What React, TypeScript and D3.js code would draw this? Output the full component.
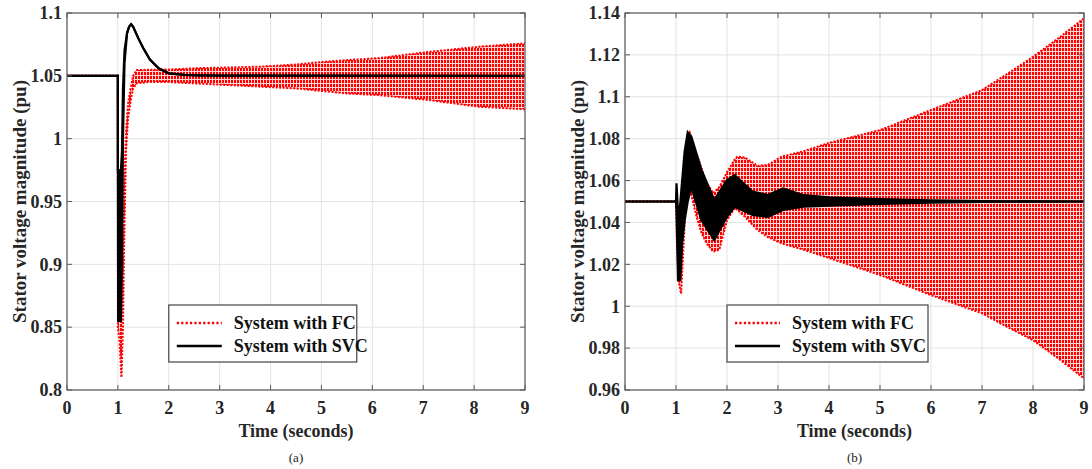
import React from "react";
import * as d3 from "d3";

// ---- Panel (a): envelope of each trace (time in s, voltage in pu) ----
const fcTimeA = [0, 0.999, 1.0, 1.03, 1.07, 1.1, 1.12, 1.16, 1.2, 1.25, 1.3, 1.37, 1.6, 2.0, 2.5, 3.0, 3.8, 4.5, 5.0, 5.5, 6.1, 7.1, 8.1, 9.0];
const fcUpperA = [1.05, 1.05, 0.97, 0.92, 0.86, 0.9, 0.96, 1.005, 1.028, 1.04, 1.05, 1.0546, 1.0548, 1.055, 1.056, 1.0565, 1.0573, 1.059, 1.061, 1.0625, 1.064, 1.069, 1.0732, 1.0759];
const fcLowerA = [1.05, 1.05, 0.85, 0.84, 0.81, 0.85, 0.91, 0.99, 1.016, 1.03, 1.04, 1.044, 1.045, 1.045, 1.044, 1.043, 1.0414, 1.04, 1.038, 1.036, 1.0347, 1.0308, 1.0254, 1.0234];

const svcTimeA = [0, 0.999, 1.0, 1.005, 1.06, 1.08, 1.1, 1.13, 1.18, 1.22, 1.26, 1.3, 1.4, 1.5, 1.63, 1.8, 2.0, 2.3, 2.6, 3.0, 9.0];
const svcUpperA = [1.05, 1.05, 0.975, 0.975, 0.975, 0.99, 1.04, 1.07, 1.084, 1.089, 1.091, 1.089, 1.08, 1.072, 1.063, 1.056, 1.052, 1.0507, 1.0503, 1.0501, 1.05];
const svcLowerA = [1.05, 1.05, 0.975, 0.855, 0.855, 0.9, 1.0, 1.06, 1.084, 1.089, 1.091, 1.089, 1.08, 1.072, 1.063, 1.056, 1.052, 1.0507, 1.0503, 1.0501, 1.05];

// ---- Panel (b) ----
const fcTimeB = [0, 0.999, 1.0, 1.02, 1.05, 1.1, 1.15, 1.2, 1.27, 1.4, 1.5, 1.6, 1.73, 1.85, 2.0, 2.15, 2.2, 2.35, 2.6, 2.8, 3.07, 3.5, 4.0, 5.0, 6.0, 7.0, 7.5, 8.0, 8.5, 9.0];
const fcUpperB = [1.05, 1.05, 1.05, 1.04, 1.03, 1.02, 1.06, 1.078, 1.0828, 1.073, 1.066, 1.059, 1.054, 1.057, 1.064, 1.07, 1.0714, 1.071, 1.067, 1.0675, 1.0714, 1.074, 1.078, 1.0841, 1.0937, 1.1032, 1.111, 1.1191, 1.128, 1.1375];
const fcLowerB = [1.05, 1.05, 1.05, 1.03, 1.012, 1.006, 1.03, 1.055, 1.056, 1.043, 1.035, 1.03, 1.026, 1.027, 1.041, 1.047, 1.046, 1.0427, 1.0364, 1.033, 1.03, 1.027, 1.023, 1.0149, 1.0053, 0.9966, 0.99, 0.9838, 0.975, 0.9655];

const svcTimeB = [0, 0.999, 1.0, 1.01, 1.04, 1.08, 1.12, 1.17, 1.23, 1.3, 1.5, 1.75, 2.0, 2.15, 2.5, 2.8, 3.1, 3.5, 4.0, 5.0, 6.0, 7.0, 9.0];
const svcUpperB = [1.05, 1.05, 1.05, 1.0587, 1.045, 1.048, 1.06, 1.074, 1.083, 1.081, 1.065, 1.0507, 1.0602, 1.0626, 1.0547, 1.0531, 1.0563, 1.053, 1.052, 1.0512, 1.0505, 1.0502, 1.05];
const svcLowerB = [1.05, 1.05, 1.05, 1.045, 1.0125, 1.0125, 1.03, 1.041, 1.05, 1.057, 1.041, 1.0316, 1.0427, 1.0475, 1.0436, 1.0427, 1.046, 1.0475, 1.048, 1.0488, 1.0495, 1.0498, 1.05];

// ---- Axes ----
const xTicks = [0, 1, 2, 3, 4, 5, 6, 7, 8, 9];
const yTicksA = [0.8, 0.85, 0.9, 0.95, 1, 1.05, 1.1];
const yTicksB = [0.96, 0.98, 1, 1.02, 1.04, 1.06, 1.08, 1.1, 1.12, 1.14];
const legendLabels = ["System with FC", "System with SVC"];
const xTitle = "Time (seconds)";
const yTitle = "Stator voltage magnitude (pu)";

const FONT = "'Liberation Serif', 'Times New Roman', serif";
const RED = "#ff0000";

type Pt = { t: number; hi: number; lo: number };
const zip = (t: number[], hi: number[], lo: number[]): Pt[] =>
  t.map((v, i) => ({ t: v, hi: hi[i], lo: lo[i] }));

type PanelProps = {
  id: string;
  left: number;
  right: number;
  top: number;
  bottom: number;
  yDomain: [number, number];
  yTicks: number[];
  fc: Pt[];
  svc: Pt[];
  legendT: number;
  legendW: number;
  caption: string;
};

function Panel(p: PanelProps) {
  const x = d3.scaleLinear().domain([0, 9]).range([p.left, p.right]);
  const y = d3.scaleLinear().domain(p.yDomain).range([p.bottom, p.top]);

  const area = d3
    .area<Pt>()
    .x((d) => x(d.t))
    .y0((d) => y(d.lo))
    .y1((d) => y(d.hi));
  const upper = d3
    .line<Pt>()
    .x((d) => x(d.t))
    .y((d) => y(d.hi));
  const lower = d3
    .line<Pt>()
    .x((d) => x(d.t))
    .y((d) => y(d.lo));

  const clipId = `clip-${p.id}`;
  const patId = `osc-${p.id}`;
  const tickLen = 5;
  const cx = (p.left + p.right) / 2;
  const cy = (p.top + p.bottom) / 2;

  const lx = x(p.legendT);
  const ly = 305;
  const lh = 57;

  return (
    <g>
      <defs>
        <clipPath id={clipId}>
          <rect x={p.left} y={p.top} width={p.right - p.left} height={p.bottom - p.top} />
        </clipPath>
        {/* dense oscillation band: red dotted strokes */}
        <pattern id={patId} patternUnits="userSpaceOnUse" width={3} height={4}>
          <rect x={0} y={0} width={3} height={4} fill="#ffd6d6" />
          <rect x={0} y={0} width={2} height={3} fill={RED} />
        </pattern>
      </defs>

      {/* grid */}
      <g stroke="#e3e3e3" strokeWidth={1}>
        {xTicks.map((t) => (
          <line key={`gx${t}`} x1={x(t)} x2={x(t)} y1={p.top} y2={p.bottom} />
        ))}
        {p.yTicks.map((v) => (
          <line key={`gy${v}`} x1={p.left} x2={p.right} y1={y(v)} y2={y(v)} />
        ))}
      </g>

      <g clipPath={`url(#${clipId})`}>
        {/* FC trace */}
        <path d={area(p.fc) ?? ""} fill={`url(#${patId})`} />
        <path d={upper(p.fc) ?? ""} fill="none" stroke={RED} strokeWidth={2} strokeDasharray="2,1.5" />
        <path d={lower(p.fc) ?? ""} fill="none" stroke={RED} strokeWidth={2} strokeDasharray="2,1.5" />
        {/* SVC trace */}
        <path d={area(p.svc) ?? ""} fill="#000" />
        <path d={upper(p.svc) ?? ""} fill="none" stroke="#000" strokeWidth={2.2} />
        <path d={lower(p.svc) ?? ""} fill="none" stroke="#000" strokeWidth={2.2} />
      </g>

      {/* axes box and ticks */}
      <rect
        x={p.left}
        y={p.top}
        width={p.right - p.left}
        height={p.bottom - p.top}
        fill="none"
        stroke="#5a5a5a"
        strokeWidth={1.2}
      />
      <g stroke="#5a5a5a" strokeWidth={1}>
        {xTicks.map((t) => (
          <g key={`tx${t}`}>
            <line x1={x(t)} x2={x(t)} y1={p.bottom} y2={p.bottom - tickLen} />
            <line x1={x(t)} x2={x(t)} y1={p.top} y2={p.top + tickLen} />
          </g>
        ))}
        {p.yTicks.map((v) => (
          <g key={`ty${v}`}>
            <line x1={p.left} x2={p.left + tickLen} y1={y(v)} y2={y(v)} />
            <line x1={p.right} x2={p.right - tickLen} y1={y(v)} y2={y(v)} />
          </g>
        ))}
      </g>

      {/* tick labels */}
      <g fontFamily={FONT} fontWeight="bold" fontSize={18} fill="#262626">
        {xTicks.map((t) => (
          <text key={`lx${t}`} x={x(t)} y={p.bottom + 24} textAnchor="middle">
            {t}
          </text>
        ))}
        {p.yTicks.map((v) => (
          <text key={`ly${v}`} x={p.left - 5} y={y(v)} dy="0.35em" textAnchor="end">
            {String(+v.toFixed(2))}
          </text>
        ))}
      </g>

      {/* axis titles */}
      <text
        x={cx}
        y={p.bottom + 47}
        textAnchor="middle"
        fontFamily={FONT}
        fontWeight="bold"
        fontSize={18}
        fill="#262626"
      >
        {xTitle}
      </text>
      <text
        transform={`translate(${p.left - 48},${cy}) rotate(-90)`}
        textAnchor="middle"
        dy="0.35em"
        fontFamily={FONT}
        fontWeight="bold"
        fontSize={19}
        fill="#262626"
      >
        {yTitle}
      </text>
      <text x={cx} y={462} textAnchor="middle" fontFamily={FONT} fontSize={13} fill="#222">
        {p.caption}
      </text>

      {/* legend */}
      <rect x={lx} y={ly} width={p.legendW} height={lh} fill="#fff" stroke="#444" strokeWidth={1.2} />
      <line x1={lx + 8} x2={lx + 53} y1={ly + 18} y2={ly + 18} stroke={RED} strokeWidth={2.5} strokeDasharray="2.2,2.2" />
      <line x1={lx + 8} x2={lx + 53} y1={ly + 41} y2={ly + 41} stroke="#000" strokeWidth={2.5} />
      <g fontFamily={FONT} fontWeight="bold" fontSize={18} fill="#111">
        <text x={lx + 65} y={ly + 18} dy="0.35em">
          {legendLabels[0]}
        </text>
        <text x={lx + 65} y={ly + 41} dy="0.35em">
          {legendLabels[1]}
        </text>
      </g>
    </g>
  );
}

export default function App() {
  return (
    <svg
      width={1092}
      height={469}
      style={{ position: "absolute", left: 0, top: 0, background: "#fff" }}
    >
      <Panel
        id="a"
        left={67}
        right={525}
        top={13}
        bottom={390}
        yDomain={[0.8, 1.1]}
        yTicks={yTicksA}
        fc={zip(fcTimeA, fcUpperA, fcLowerA)}
        svc={zip(svcTimeA, svcUpperA, svcLowerA)}
        legendT={2}
        legendW={188}
        caption="(a)"
      />
      <Panel
        id="b"
        left={625}
        right={1084}
        top={13}
        bottom={390}
        yDomain={[0.96, 1.14]}
        yTicks={yTicksB}
        fc={zip(fcTimeB, fcUpperB, fcLowerB)}
        svc={zip(svcTimeB, svcUpperB, svcLowerB)}
        legendT={2}
        legendW={201}
        caption="(b)"
      />
    </svg>
  );
}
